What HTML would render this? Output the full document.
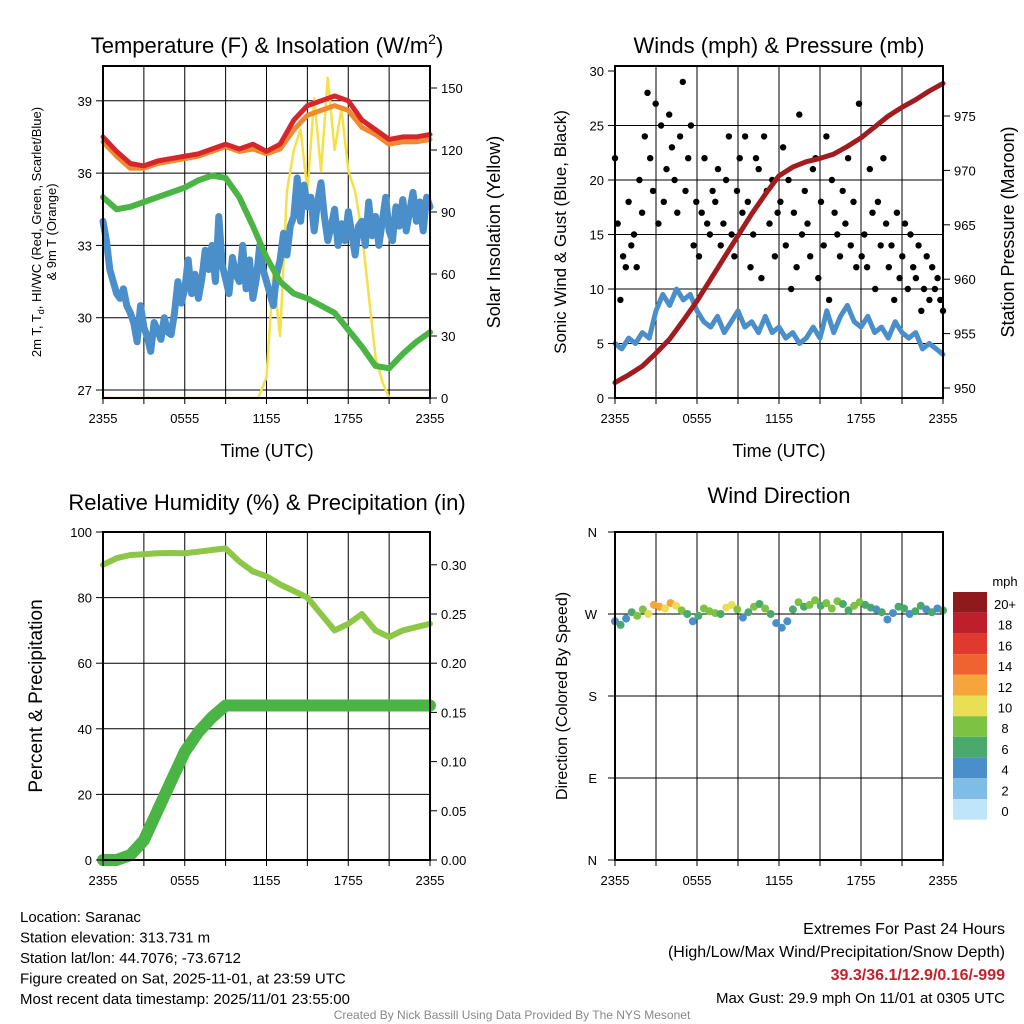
<!DOCTYPE html>
<html><head><meta charset="utf-8"><style>
html,body{margin:0;padding:0;background:#fff;}
svg{display:block;font-family:"Liberation Sans",sans-serif;}
</style></head><body>
<svg id="c" width="1024" height="1024" viewBox="0 0 1024 1024"></svg>
<script>
// ---- data ----
const xTickLabels=["2355","0555","1155","1755","2355"];
const tempRed=[37.5,36.9,36.4,36.3,36.5,36.6,36.7,36.8,37.0,37.2,37.0,37.2,36.9,37.2,38.2,38.8,39.0,39.2,39.0,38.2,37.8,37.4,37.5,37.5,37.6];
const tempOrange=[37.3,36.7,36.2,36.2,36.4,36.5,36.6,36.7,36.9,37.1,36.9,37.0,36.8,37.0,37.8,38.4,38.6,38.8,38.6,37.9,37.6,37.2,37.3,37.3,37.4];
const dewGreen=[35.0,34.5,34.6,34.8,35.0,35.2,35.4,35.7,35.9,35.8,35.0,33.8,32.5,31.5,31.0,30.8,30.5,30.2,29.5,28.8,28.0,27.9,28.5,29.0,29.4];
const wcBlue=[34.0,33.2,32.0,31.5,31.0,30.8,31.2,30.5,30.2,29.8,29.0,30.5,29.6,29.2,28.6,29.8,29.5,29.1,30.0,29.4,29.3,30.2,31.5,30.6,31.2,32.4,31.0,31.8,30.8,31.6,32.8,32.0,33.0,31.5,34.2,32.2,31.6,31.0,32.5,31.8,31.5,33.0,31.2,32.4,30.8,31.6,33.0,32.0,31.5,31.0,30.5,31.8,32.4,33.5,32.6,33.8,34.2,35.8,34.0,35.5,34.6,35.0,33.6,34.8,35.6,34.2,33.2,33.8,34.5,33.0,33.9,33.2,34.4,33.5,32.6,33.8,34.0,33.0,34.8,33.4,34.2,33.0,34.0,35.0,33.6,33.2,34.6,33.8,34.9,33.6,34.4,35.2,34.0,34.8,33.6,35.0,34.6];
const solarTimes=[0,11.4,12,12.5,13,13.5,14,14.5,15,15.5,16,16.5,17,17.5,18,18.5,19,19.5,20,20.5,21,24];
const solarVals=[0,0,10,60,30,100,120,130,100,145,110,155,120,140,110,100,80,50,20,8,0,0];
const gusts=[22,16,9,13,12,18,14,15,12,20,17,24,28,22,19,27,16,25,18,21,26,23,20,17,24,29,19,22,25,14,18,13,17,22,16,15,19,18,21,14,16,20,24,15,13,19,22,17,24,18,12,15,22,21,11,24,19,16,20,13,17,18,23,14,20,10,17,12,26,15,19,16,13,21,22,11,18,14,24,9,20,17,15,13,19,16,22,14,18,12,27,13,15,12,21,17,10,18,14,22,16,12,14,9,17,11,13,16,10,15,12,11,14,8,10,13,9,12,10,11,9,8];
const sonicWind=[5,4.5,5.5,5,6,5.5,8,9.5,8.5,10,9,9.5,8,7,6.5,7.5,6,7,8,6.5,7,6,7.5,6,6.5,5.5,6,5,5.5,6.5,5.5,8,6,7.5,8.5,7,6.5,7.5,6,6.5,5.5,7,6,5.5,6,4.5,5,4.5,4];
const pressure=[950.5,951.2,952,953.2,954.5,956.2,958,960,962,964,966,967.8,969.5,970.3,970.8,971.1,971.5,972.2,973,974,975,975.8,976.5,977.3,978];
const rh=[90,92,93,93.2,93.5,93.6,93.5,94,94.5,95,91,88,86.5,84,82,80,75,70,72,75,70,68,70,71,72];
const precip=[0,0,0.005,0.02,0.05,0.08,0.11,0.13,0.145,0.157,0.157,0.157,0.157,0.157,0.157,0.157,0.157,0.157,0.157,0.157,0.157,0.157,0.157,0.157,0.157];
const windDir=[262,258,265,272,268,275,270,280,278,276,282,279,274,270,262,268,276,273,271,270,277,280,275,266,272,278,281,276,270,260,255,262,275,283,278,280,285,279,282,276,284,281,274,279,283,280,277,275,272,264,271,278,276,270,273,279,275,272,276,274];
const windSpd=[4,6,4,6,8,8,10,12,12,10,11,9,8,6,4,6,8,8,8,6,10,10,8,4,6,8,6,8,6,4,4,4,6,8,6,8,8,6,8,8,8,6,6,8,8,6,6,4,6,4,4,6,6,4,6,6,4,6,4,6];
const cbLabels=["20+","18","16","14","12","10","8","6","4","2","0"];
const cbColors=["#8e1a1c","#bf1e2d","#e03a2f","#ef6330","#f6a53d","#e9df55","#7dc243","#4aa96b","#4a8fca","#7fbde6","#bfe5f8"];

// ---- helpers ----
const svg=document.getElementById('c');
const NS="http://www.w3.org/2000/svg";
function mk(tag,attrs,parent){const e=document.createElementNS(NS,tag);for(const k in attrs)e.setAttribute(k,attrs[k]);(parent||svg).appendChild(e);return e;}
function txt(x,y,s,size,anchor,extra){const t=mk('text',Object.assign({x:x,y:y,'font-size':size,'text-anchor':anchor||'middle',fill:'#000'},extra||{}));t.textContent=s;return t;}
function tX(L,R,h){return L+(R-L)*h/24;}
function line(pts,color,w,name){const p=mk('polyline',{points:pts.map(q=>q[0].toFixed(1)+','+q[1].toFixed(1)).join(' '),fill:'none',stroke:color,'stroke-width':w,'stroke-linejoin':'round','stroke-linecap':'round'});return p;}
function frame(L,R,T,B,hLines,name){
  const g=mk('g',{});
  for(let h=3;h<24;h+=3){const x=tX(L,R,h);mk('line',{x1:x,x2:x,y1:T,y2:B,stroke:'#000','stroke-width':1},g);}
  hLines.forEach(y=>mk('line',{x1:L,x2:R,y1:y,y2:y,stroke:'#000','stroke-width':1},g));
  return g;
}
function box(L,R,T,B){mk('rect',{x:L,y:T,width:R-L,height:B-T,fill:'none',stroke:'#000','stroke-width':2});}
function xTicks(L,R,B){xTickLabels.forEach((s,i)=>{const x=L+(R-L)*i/4;const t=txt(x,B+25,s,13);});
  for(let h=0;h<=24;h+=3){const x=tX(L,R,h);mk('line',{x1:x,x2:x,y1:B,y2:B+6,stroke:'#000'});}}
function yTicksL(L,vals,fy,fmt){vals.forEach(v=>{const y=fy(v);mk('line',{x1:L-7,x2:L,y1:y,y2:y,stroke:'#000'});txt(L-11,y+5,fmt(v),13,'end');});}
function yTicksR(R,vals,fy,fmt){vals.forEach(v=>{const y=fy(v);mk('line',{x1:R,x2:R+7,y1:y,y2:y,stroke:'#000'});txt(R+11,y+5,fmt(v),13,'start');});}
function series(arr,L,R,fy){return arr.map((v,i)=>[tX(L,R,24*i/(arr.length-1)),fy(v)]);}

// ---- Panel 1: Temperature ----
{const L=103,R=430,T=66,B=398;
 const ty=v=>390-(v-27)*24.1, sy=v=>398-v*2.0667;
 frame(L,R,T,B,[27,30,33,36,39].map(ty),'temp-grid');
 const sp=solarTimes.map((t,i)=>[tX(L,R,t),sy(solarVals[i])]);
 line(sp,'#f6e04a',2.5,'solar-insolation-line');
 line(series(wcBlue,L,R,ty),'#4a8fca',7,'wind-chill-line');
 line(series(dewGreen,L,R,ty),'#4ab544',6,'dewpoint-line');
 line(series(tempOrange,L,R,ty),'#f08a2e',5,'9m-temp-line');
 line(series(tempRed,L,R,ty),'#d7262b',5,'2m-temp-line');
 box(L,R,T,B);xTicks(L,R,B);
 yTicksL(L,[27,30,33,36,39],ty,v=>String(v));
 yTicksR(R,[0,30,60,90,120,150],sy,v=>String(v));
 const t=txt(267,53,'Temperature (F) & Insolation (W/m',22);const s=mk('tspan',{dy:-9,'font-size':14},t);s.textContent='2';const s2=mk('tspan',{dy:9},t);s2.textContent=')';
 
 txt(267,457,'Time (UTC)',18);
 const a=txt(0,0,'',13,'middle',{transform:'translate(41,232) rotate(-90)'});a.innerHTML='2m T, T<tspan font-size="9" dy="3">d</tspan><tspan dy="-3">, HI/WC (Red, Green, Scarlet/Blue)</tspan>';
 txt(0,0,'& 9m T (Orange)',13,'middle',{transform:'translate(56,232) rotate(-90)'});
 txt(0,0,'Solar Insolation (Yellow)',18,'middle',{transform:'translate(500,232) rotate(-90)'});
}
// ---- Panel 2: Winds ----
{const L=615,R=943,T=66,B=398;
 const wy=v=>398-v*10.9, py=v=>388-(v-950)*10.88;
 frame(L,R,T,B,[5,10,15,20,25].map(wy),'wind-grid');
 line(series(sonicWind,L,R,wy),'#4a8fca',5,'sonic-wind-line');
 const gp=series(gusts,L,R,wy);
 gp.forEach(p=>{const c=mk('circle',{cx:p[0].toFixed(1),cy:p[1].toFixed(1),r:3.2,fill:'#000'});});
 line(series(pressure,L,R,py),'#a01c1f',5,'pressure-line');
 box(L,R,T,B);xTicks(L,R,B);
 yTicksL(L,[0,5,10,15,20,25,30],wy,v=>String(v));
 yTicksR(R,[950,955,960,965,970,975],py,v=>String(v));
 txt(779,53,'Winds (mph) & Pressure (mb)',22);
 txt(779,457,'Time (UTC)',18);
 txt(0,0,'Sonic Wind & Gust (Blue, Black)',17,'middle',{transform:'translate(566,232) rotate(-90)'});
 txt(0,0,'Station Pressure (Maroon)',18,'middle',{transform:'translate(1014,232) rotate(-90)'});
}
// ---- Panel 3: RH ----
{const L=103,R=430,T=532,B=860;
 const ry=v=>860-v*3.28, py=v=>860-v*984;
 frame(L,R,T,B,[20,40,60,80].map(ry),'rh-grid');
 line(series(rh,L,R,ry),'#8dc748',6,'rh-line');
 line(series(precip,L,R,py),'#4ab544',12,'precip-line');
 box(L,R,T,B);xTicks(L,R,B);
 yTicksL(L,[0,20,40,60,80,100],ry,v=>String(v));
 yTicksR(R,[0,0.05,0.1,0.15,0.2,0.25,0.3],py,v=>v.toFixed(2));
 txt(267,510,'Relative Humidity (%) & Precipitation (in)',22);
 txt(0,0,'Percent & Precipitation',19,'middle',{transform:'translate(42,696) rotate(-90)'});
}
// ---- Panel 4: Wind direction ----
{const L=615,R=943,T=532,B=860;
 const dy=d=>860-d*328/360;
 frame(L,R,T,B,[90,180,270].map(dy),'direction-grid');
 function col(s){let i=Math.min(10,Math.round(s/2));return cbColors[10-i];}
 windDir.forEach((d,i)=>{const x=tX(L,R,24*i/(windDir.length-1));const c=mk('circle',{cx:x.toFixed(1),cy:dy(d).toFixed(1),r:4,fill:col(windSpd[i])});});
 box(L,R,T,B);xTicks(L,R,B);
 [[0,'N'],[90,'E'],[180,'S'],[270,'W'],[360,'N']].forEach(a=>{const y=dy(a[0]);mk('line',{x1:L-7,x2:L,y1:y,y2:y,stroke:'#000'});txt(L-18,y+5,a[1],13,'end');});
 txt(779,503,'Wind Direction',22);
 txt(0,0,'Direction (Colored By Speed)',16,'middle',{transform:'translate(567,696) rotate(-90)'});
 const cg=mk('g',{});
 cbColors.forEach((c,i)=>{mk('rect',{x:953,y:592+i*20.7,width:34,height:20.7,fill:c},cg);txt(1005,609+i*20.7,cbLabels[i],13,'middle');});
 txt(1005,586,'mph',13);
}
// ---- footer ----
['Location: Saranac','Station elevation: 313.731 m','Station lat/lon: 44.7076; -73.6712','Figure created on Sat, 2025-11-01, at 23:59 UTC','Most recent data timestamp: 2025/11/01 23:55:00'].forEach((s,i)=>txt(20,922+i*20.5,s,15,'start'));
txt(1005,934,'Extremes For Past 24 Hours',16,'end');
txt(1005,957,'(High/Low/Max Wind/Precipitation/Snow Depth)',16,'end');
txt(1005,980,'39.3/36.1/12.9/0.16/-999',16,'end',{fill:'#c8202b','font-weight':'bold'});
txt(1005,1003,'Max Gust: 29.9 mph On 11/01 at 0305 UTC',15,'end');
txt(512,1019,'Created By Nick Bassill Using Data Provided By The NYS Mesonet',12,'middle',{fill:'#888'});
</script>
</body></html>
